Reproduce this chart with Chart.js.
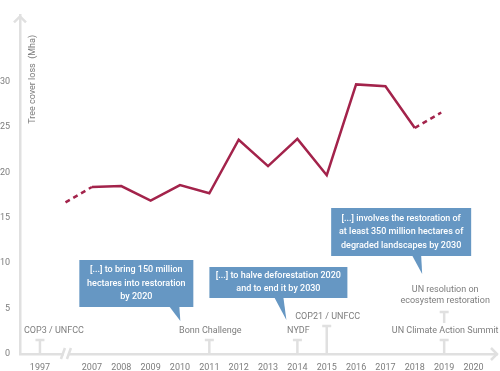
<!DOCTYPE html>
<html>
<head>
<meta charset="utf-8">
<script src="https://cdn.jsdelivr.net/npm/chart.js@4/dist/chart.umd.min.js"></script>
<style>
  html, body { margin: 0; padding: 0; background: #fff; }
  #wrap { width: 500px; height: 371px; }
</style>
</head>
<body>
<div id="wrap"><canvas id="chart" width="500" height="371"></canvas></div>
<script>
// Tree cover loss (Mha); first and last points are the dashed trend ends
const years = [2006.1, 2007, 2008, 2009, 2010, 2011, 2012, 2013, 2014, 2015, 2016, 2017, 2018, 2018.9];
const loss = [16.7, 18.4, 18.5, 16.9, 18.6, 17.7, 23.6, 20.7, 23.7, 19.7, 29.7, 29.5, 24.9, 26.6];
const tickYears = [1997, 2007, 2008, 2009, 2010, 2011, 2012, 2013, 2014, 2015, 2016, 2017, 2018, 2019, 2020];
const yTicks = [0, 5, 10, 15, 20, 25, 30];

// Milestones on the time line
const eventYears = [1997, 2011, 2014, 2015, 2019, 2019];
const eventLabels = [
  ["COP3 / UNFCC"],
  ["Bonn Challenge"],
  ["NYDF"],
  ["COP21 / UNFCC"],
  ["UN Climate Action Summit"],
  ["UN resolution on", "ecosystem restoration"]
];
const eventLevels = [0, 0, 0, 1, 0, 2];

// Quoted commitments
const calloutYears = [2011, 2014, 2019];
const calloutTexts = [
  ["[...] to bring 150 million", "hectares into restoration", "by 2020"],
  ["[...] to halve deforestation 2020", "and to end it by 2030"],
  ["[...] involves the restoration of", "at least 350 million hectares of", "degraded landscapes by 2030"]
];

// the axis is broken between 1997 and 2007
const BREAK_POS = 2005.23;
const pos = y => (y < 2000 ? BREAK_POS : y);

const AXIS = "#e0e0e0";
const GREY = "#7d7d7d";
const RED = "#a3234b";
const BLUE = "#6697c3";
const FONT = "Roboto, 'Open Sans', sans-serif";

const annotations = {
  id: "annotations",
  afterDraw(chart) {
    const ctx = chart.ctx;
    const x = chart.scales.x;
    const area = chart.chartArea;
    const bottom = area.bottom;
    const left = area.left;

    ctx.save();
    ctx.strokeStyle = AXIS;
    ctx.lineWidth = 2.5;
    ctx.lineCap = "butt";

    // arrow heads
    ctx.beginPath();
    ctx.moveTo(left - 6, area.top + 7);
    ctx.lineTo(left, area.top + 1);
    ctx.lineTo(left + 6, area.top + 7);
    ctx.moveTo(area.right - 6, bottom - 6);
    ctx.lineTo(area.right, bottom);
    ctx.lineTo(area.right - 6, bottom + 6);
    ctx.stroke();

    // axis break
    const bx = (x.getPixelForValue(BREAK_POS) + x.getPixelForValue(2007)) / 2;
    ctx.fillStyle = "#fff";
    ctx.fillRect(bx - 2, bottom - 3, 4, 6);
    ctx.beginPath();
    ctx.moveTo(bx - 5, bottom + 5);
    ctx.lineTo(bx - 1, bottom - 6);
    ctx.moveTo(bx + 1, bottom + 5);
    ctx.lineTo(bx + 5, bottom - 6);
    ctx.stroke();

    // milestones: T markers + labels
    const labelOff = [23, 37, 64];
    const capOff = [14, 28, 42];
    ctx.font = "9px " + FONT;
    ctx.fillStyle = GREY;
    ctx.textAlign = "center";
    ctx.textBaseline = "middle";
    eventYears.forEach((yr, i) => {
      const px = x.getPixelForValue(pos(yr));
      const lvl = eventLevels[i];
      const capY = bottom - capOff[lvl];
      const stemEnd = lvl === 2 ? capY + 11 : bottom;
      ctx.beginPath();
      ctx.moveTo(px, capY);
      ctx.lineTo(px, stemEnd);
      ctx.moveTo(px - 4.5, capY);
      ctx.lineTo(px + 4.5, capY);
      ctx.stroke();
      const lx = yr < 2000 ? px + 14 : px + 1;
      eventLabels[i].forEach((t, k) => {
        ctx.fillText(t, lx, bottom - labelOff[lvl] + k * 11);
      });
    });

    // callouts
    const boxes = [
      { l: -130, r: -16, t: -94, b: -47, tip: -29, tail: [-40, -30], tipY: -33 },
      { l: -88, r: 50, t: -87, b: -56, tip: -11, tail: [-23, -14], tipY: -34 },
      { l: -113, r: 27, t: -146, b: -98, tip: -22, tail: [-32, -23], tipY: -80 }
    ];
    ctx.font = "500 9px " + FONT;
    calloutYears.forEach((yr, i) => {
      const px = x.getPixelForValue(pos(yr));
      const b = boxes[i];
      ctx.fillStyle = BLUE;
      ctx.fillRect(px + b.l, bottom + b.t, b.r - b.l, b.b - b.t);
      ctx.beginPath();
      ctx.moveTo(px + b.tail[0], bottom + b.b - 0.5);
      ctx.lineTo(px + b.tip, bottom + b.tipY);
      ctx.lineTo(px + b.tail[1], bottom + b.b - 0.5);
      ctx.closePath();
      ctx.fill();
      const lines = calloutTexts[i];
      const cx = px + (b.l + b.r) / 2;
      const cy = bottom + (b.t + b.b) / 2;
      ctx.fillStyle = "#fff";
      lines.forEach((t, k) => {
        ctx.fillText(t, cx, cy + (k - (lines.length - 1) / 2) * 13.3);
      });
    });

    // y axis title
    ctx.translate(left + 13, area.top + 64);
    ctx.rotate(-Math.PI / 2);
    ctx.font = "9px " + FONT;
    ctx.fillStyle = GREY;
    ctx.fillText("Tree cover loss  (Mha)", 0, 0);
    ctx.restore();
  }
};

new Chart(document.getElementById("chart"), {
  type: "line",
  data: {
    datasets: [{
      data: years.map((yr, i) => ({ x: yr, y: loss[i] })),
      borderColor: RED,
      borderWidth: 2.5,
      pointRadius: 0,
      tension: 0,
      segment: {
        borderDash: c => (c.p0DataIndex === 0 || c.p1DataIndex === years.length - 1 ? [5, 4] : undefined)
      }
    }]
  },
  options: {
    responsive: false,
    animation: false,
    layout: { padding: { top: 0, right: 3, left: 0, bottom: 0 } },
    plugins: { legend: { display: false }, tooltip: { enabled: false } },
    scales: {
      x: {
        type: "linear",
        min: 2004.55,
        max: 2020.8,
        afterFit: s => { s.height = 17; },
        afterBuildTicks: s => { s.ticks = tickYears.map(y => ({ value: pos(y) })); },
        grid: { display: false, drawTicks: false },
        border: { color: AXIS, width: 2.5 },
        ticks: {
          padding: 8,
          autoSkip: false,
          maxRotation: 0,
          color: GREY,
          font: { family: FONT, size: 9 },
          callback: (v, i) => String(tickYears[i])
        }
      },
      y: {
        min: 0,
        max: 37.3,
        afterFit: s => { s.width = 20; },
        afterBuildTicks: s => { s.ticks = yTicks.map(v => ({ value: v })); },
        grid: { display: false, drawTicks: false },
        border: { color: AXIS, width: 2.5 },
        ticks: {
          padding: 10,
          color: GREY,
          font: { family: FONT, size: 9 }
        }
      }
    }
  },
  plugins: [annotations]
});
</script>
</body>
</html>
